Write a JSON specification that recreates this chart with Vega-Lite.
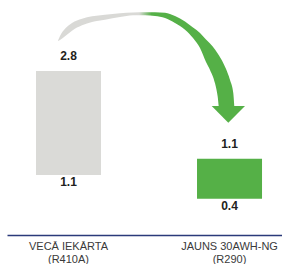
{
  "$schema": "https://vega.github.io/schema/vega-lite/v6.json",
  "autosize": {"type": "none"},
  "width": 275,
  "height": 235,
  "padding": {"left": 7, "right": 0, "top": 0, "bottom": 29},
  "background": "white",
  "config": {"view": {"stroke": null}},
  "datasets": {
    "bars": [
      {"cat": "VECĀ IEKĀRTA|(R410A)", "kind": "old", "lo": 1.1, "hi": 2.8, "loLabel": "1.1", "hiLabel": "2.8"},
      {"cat": "JAUNS 30AWH-NG|(R290)", "kind": "new", "lo": 0.713, "hi": 1.366, "loLabel": "0.4", "hiLabel": "1.1"}
    ],
    "arrowBody": [
      {"u": -0.0652, "top": 3.299, "bottom": 3.290},
      {"u": -0.0528, "top": 3.372, "bottom": 3.307},
      {"u": -0.0217, "top": 3.491, "bottom": 3.367},
      {"u": 0.0217, "top": 3.585, "bottom": 3.459},
      {"u": 0.0839, "top": 3.655, "bottom": 3.547},
      {"u": 0.1460, "top": 3.694, "bottom": 3.601},
      {"u": 0.2267, "top": 3.720, "bottom": 3.639},
      {"u": 0.3199, "top": 3.745, "bottom": 3.683},
      {"u": 0.4006, "top": 3.756, "bottom": 3.712},
      {"u": 0.4752, "top": 3.761, "bottom": 3.710},
      {"u": 0.5373, "top": 3.761, "bottom": 3.699},
      {"u": 0.5994, "top": 3.751, "bottom": 3.666},
      {"u": 0.6615, "top": 3.699, "bottom": 3.585},
      {"u": 0.7236, "top": 3.609, "bottom": 3.475},
      {"u": 0.7733, "top": 3.511, "bottom": 3.339},
      {"u": 0.8168, "top": 3.421, "bottom": 3.176},
      {"u": 0.8540, "top": 3.315, "bottom": 2.947},
      {"u": 0.8789, "top": 3.250, "bottom": 2.816},
      {"u": 0.9099, "top": 3.151, "bottom": 2.599},
      {"u": 0.9267, "top": 3.086, "bottom": 2.380},
      {"u": 0.9348, "top": 3.053, "bottom": 2.216},
      {"u": 0.9720, "top": 2.870, "bottom": 2.216},
      {"u": 1.0031, "top": 2.653, "bottom": 2.216},
      {"u": 1.0236, "top": 2.436, "bottom": 2.216},
      {"u": 1.0298, "top": 2.216, "bottom": 2.216}
    ],
    "arrowHead": [
      {"u": 0.8894, "top": 2.23, "bottom": 2.23},
      {"u": 0.9925, "top": 2.23, "bottom": 1.955},
      {"u": 1.0963, "top": 2.23, "bottom": 2.23}
    ]
  },
  "resolve": {"scale": {"x": "independent"}, "axis": {"x": "independent"}},
  "layer": [
    {
      "data": {"name": "bars"},
      "encoding": {
        "x": {
          "field": "cat", "type": "nominal", "sort": null,
          "scale": {"paddingInner": 0.5963, "paddingOuter": 0.152, "align": 0.592},
          "axis": {
            "title": null, "labelAngle": 0, "ticks": false, "tickSize": 0,
            "labelPadding": 5, "labelExpr": "split(datum.label, '|')",
            "labelLineHeight": 13, "labelFont": "Liberation Sans", "labelFontSize": 11,
            "labelColor": "#3a3a3a", "domainColor": "#2b3a7a", "domainWidth": 1.5,
            "grid": false
          }
        }
      },
      "layer": [
        {
          "mark": {"type": "bar"},
          "encoding": {
            "y": {"field": "hi", "type": "quantitative", "scale": {"domain": [0.119, 3.961], "nice": false, "zero": false}, "axis": null},
            "y2": {"field": "lo"},
            "color": {"field": "kind", "type": "nominal", "scale": {"domain": ["old", "new"], "range": ["#dadad7", "#55b047"]}, "legend": null}
          }
        },
        {
          "mark": {"type": "text", "baseline": "alphabetic", "dy": -11, "font": "Liberation Sans", "fontSize": 12, "fontWeight": "bold", "color": "#231f20"},
          "encoding": {
            "y": {"field": "hi", "type": "quantitative", "scale": {"domain": [0.119, 3.961], "nice": false, "zero": false}, "axis": null},
            "text": {"field": "hiLabel"}
          }
        },
        {
          "mark": {"type": "text", "baseline": "alphabetic", "dy": 11, "font": "Liberation Sans", "fontSize": 12, "fontWeight": "bold", "color": "#231f20"},
          "encoding": {
            "y": {"field": "lo", "type": "quantitative", "scale": {"domain": [0.119, 3.961], "nice": false, "zero": false}, "axis": null},
            "text": {"field": "loLabel"}
          }
        }
      ]
    },
    {
      "encoding": {
        "x": {"field": "u", "type": "quantitative", "scale": {"domain": [-0.382, 1.326], "nice": false, "zero": false}, "axis": null},
        "y": {"field": "top", "type": "quantitative", "scale": {"domain": [0.119, 3.961], "nice": false, "zero": false}, "axis": null},
        "y2": {"field": "bottom"}
      },
      "layer": [
        {
          "data": {"name": "arrowBody"},
          "mark": {
            "type": "area", "interpolate": "monotone",
            "color": {
              "gradient": "linear", "x1": 0, "y1": 0, "x2": 1, "y2": 0,
              "stops": [
                {"offset": 0, "color": "#d9d9d6"},
                {"offset": 0.46, "color": "#d9d9d6"},
                {"offset": 0.53, "color": "#55b047"},
                {"offset": 1, "color": "#55b047"}
              ]
            }
          }
        },
        {
          "data": {"name": "arrowHead"},
          "mark": {"type": "area", "color": "#55b047"}
        }
      ]
    }
  ]
}
